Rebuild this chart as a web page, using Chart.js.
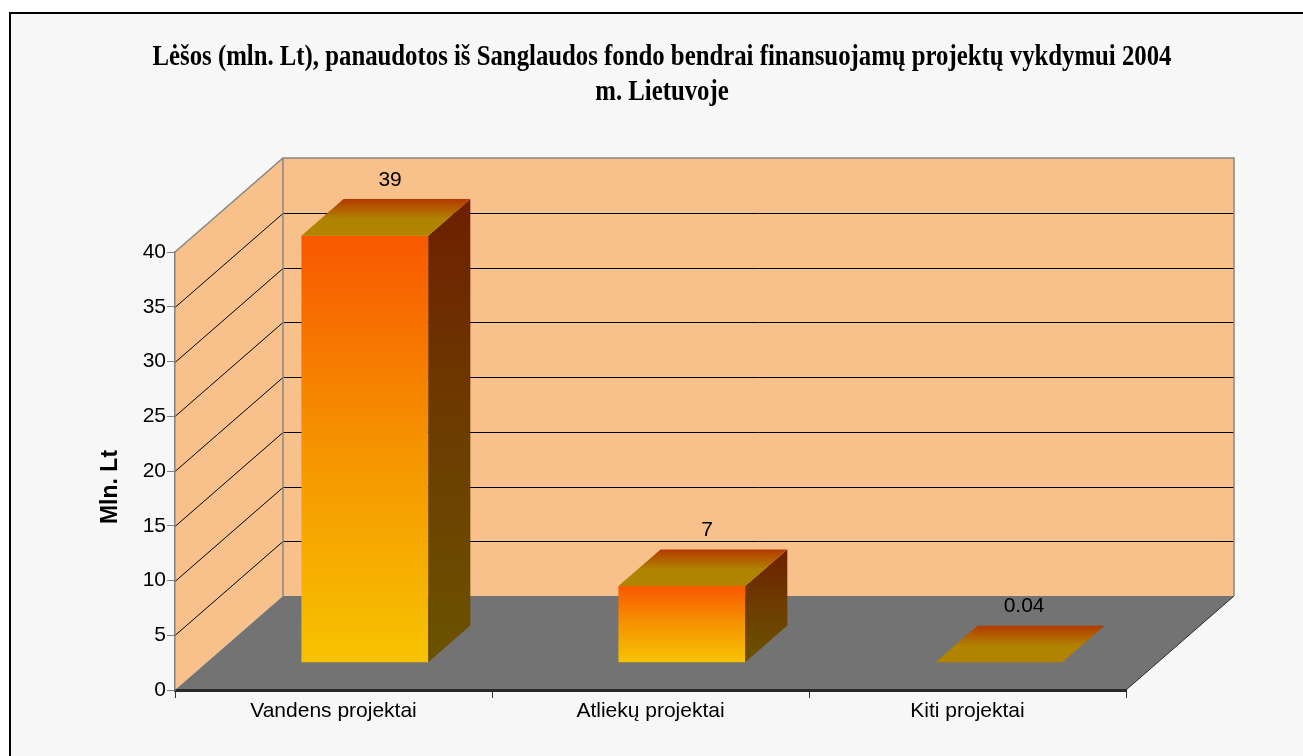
<!DOCTYPE html>
<html>
<head>
<meta charset="utf-8">
<title>Lėšos iš Sanglaudos fondo 2004</title>
<script src="https://cdn.jsdelivr.net/npm/chart.js@4.4.0/dist/chart.umd.min.js"></script>
<style>
    html, body { margin: 0; padding: 0; background: #ffffff; }
    #wrap { position: relative; width: 1303px; height: 756px; }
</style>
</head>
<body>
<div id="wrap"><canvas id="chart" width="1303" height="756"></canvas></div>
<script>
// --- data ---
const categories = ['Vandens projektai', 'Atliekų projektai', 'Kiti projektai'];
const values = [39, 7, 0.04];
const valueLabels = ['39', '7', '0.04'];
const yMin = 0;
const yMax = 40;
const yStep = 5;
const titleLines = [
    'Lėšos (mln. Lt), panaudotos iš Sanglaudos fondo bendrai finansuojamų projektų vykdymui 2004',
    'm. Lietuvoje'
];
const yAxisTitle = 'Mln. Lt';

// --- 3D look (style only) ---
const DEPTH_X = 108;       // how far the back wall sits right of the front plane
const DEPTH_Y = 94;        // and how far up
const BAR_FRONT = 0.29;    // bar front face, as share of the depth
const BAR_DEPTH = 0.39;    // bar thickness, as share of the depth
const WALL = '#f8c18b';
const WALL_EDGE = '#878787';
const FLOOR = '#737373';

const sansFont = '"Liberation Sans", Arial, sans-serif';
const serifFont = '"Liberation Serif", "Times New Roman", serif';

function poly(ctx, pts) {
    ctx.beginPath();
    ctx.moveTo(pts[0][0], pts[0][1]);
    for (let i = 1; i < pts.length; i++) ctx.lineTo(pts[i][0], pts[i][1]);
    ctx.closePath();
}

// background, frame, title, walls, floor and gridlines
const backdrop = {
    id: 'backdrop',
    beforeDraw(chart) {
        const ctx = chart.ctx;
        const { left, right, top, bottom } = chart.chartArea;
        const y = chart.scales.y;

        ctx.save();
        ctx.fillStyle = '#ffffff';
        ctx.fillRect(0, 0, chart.width, chart.height);
        ctx.fillStyle = '#f7f7f7';
        ctx.fillRect(10, 13, chart.width, chart.height);
        ctx.strokeStyle = '#000';
        ctx.lineWidth = 2;
        ctx.strokeRect(10, 13, chart.width + 20, chart.height + 20);

        // title, squeezed to look like the narrow Times of the original
        ctx.fillStyle = '#000';
        ctx.font = 'bold 30px ' + serifFont;
        ctx.textAlign = 'center';
        ctx.textBaseline = 'alphabetic';
        const squeeze = 1019 / ctx.measureText(titleLines[0]).width;
        const cx = 662;
        titleLines.forEach((line, i) => {
            ctx.save();
            ctx.translate(cx, 65 + i * 35);
            ctx.scale(squeeze, 1);
            ctx.fillText(line, 0, 0);
            ctx.restore();
        });

        // side wall
        ctx.fillStyle = WALL;
        poly(ctx, [[left, top], [left + DEPTH_X, top - DEPTH_Y], [left + DEPTH_X, bottom - DEPTH_Y], [left, bottom]]);
        ctx.fill();
        // back wall
        ctx.fillRect(left + DEPTH_X, top - DEPTH_Y, right - left, bottom - top);
        // floor
        ctx.fillStyle = FLOOR;
        poly(ctx, [[left, bottom], [right, bottom], [right + DEPTH_X, bottom - DEPTH_Y], [left + DEPTH_X, bottom - DEPTH_Y]]);
        ctx.fill();

        // gridlines on both walls
        ctx.lineWidth = 1;
        ctx.strokeStyle = '#000';
        y.ticks.forEach(t => {
            if (t.value <= yMin || t.value >= yMax) return;
            const py = Math.round(y.getPixelForValue(t.value)) + 0.5;
            ctx.beginPath();
            ctx.moveTo(left, py);
            ctx.lineTo(left + DEPTH_X, py - DEPTH_Y);
            ctx.lineTo(right + DEPTH_X, py - DEPTH_Y);
            ctx.stroke();
        });

        // wall outlines
        ctx.strokeStyle = WALL_EDGE;
        ctx.lineWidth = 1.5;
        ctx.beginPath();
        ctx.moveTo(left, top);
        ctx.lineTo(left + DEPTH_X, top - DEPTH_Y);
        ctx.lineTo(right + DEPTH_X, top - DEPTH_Y);
        ctx.lineTo(right + DEPTH_X, bottom - DEPTH_Y);
        ctx.moveTo(left + DEPTH_X, top - DEPTH_Y);
        ctx.lineTo(left + DEPTH_X, bottom - DEPTH_Y);
        ctx.stroke();

        ctx.strokeStyle = '#2a2a2a';
        ctx.lineWidth = 1;
        ctx.beginPath();
        ctx.moveTo(right, bottom);
        ctx.lineTo(right + DEPTH_X, bottom - DEPTH_Y);
        ctx.stroke();
        ctx.restore();
    },
    afterDraw(chart) {
        const ctx = chart.ctx;
        ctx.save();
        ctx.fillStyle = '#000';
        ctx.font = 'bold 23px ' + sansFont;
        ctx.textAlign = 'center';
        ctx.textBaseline = 'middle';
        ctx.translate(111, 487);
        ctx.rotate(-Math.PI / 2);
        ctx.fillText(yAxisTitle, 0, 0);
        ctx.restore();
    }
};

// the bars as boxes, placed from the bar elements Chart.js lays out
const boxes = {
    id: 'boxes',
    afterDatasetsDraw(chart) {
        const ctx = chart.ctx;
        const meta = chart.getDatasetMeta(0);
        const fx = DEPTH_X * BAR_FRONT, fy = DEPTH_Y * BAR_FRONT;
        const dx = DEPTH_X * BAR_DEPTH, dy = DEPTH_Y * BAR_DEPTH;

        ctx.save();
        meta.data.forEach((el, i) => {
            const p = el.getProps(['x', 'y', 'base', 'width'], true);
            const x0 = p.x - p.width / 2 + fx;
            const x1 = p.x + p.width / 2 + fx;
            const yT = p.y - fy;
            const yB = p.base - fy;

            // front
            if (yB - yT > 0.5) {
                const g = ctx.createLinearGradient(0, yT, 0, yB);
                g.addColorStop(0, '#f85800');
                g.addColorStop(0.5, '#f59400');
                g.addColorStop(1, '#f7c300');
                ctx.fillStyle = g;
                ctx.fillRect(x0, yT, x1 - x0, yB - yT);
            }
            // right side
            const gs = ctx.createLinearGradient(0, yT - dy, 0, yB);
            gs.addColorStop(0, '#6e1f00');
            gs.addColorStop(0.45, '#6d3a00');
            gs.addColorStop(1, '#6b5300');
            ctx.fillStyle = gs;
            poly(ctx, [[x1, yT], [x1 + dx, yT - dy], [x1 + dx, yB - dy], [x1, yB]]);
            ctx.fill();
            // top
            const gt = ctx.createLinearGradient(0, yT - dy, 0, yT);
            gt.addColorStop(0, '#b43a00');
            gt.addColorStop(0.55, '#b08300');
            gt.addColorStop(1, '#b08400');
            ctx.fillStyle = gt;
            poly(ctx, [[x0, yT], [x1, yT], [x1 + dx, yT - dy], [x0 + dx, yT - dy]]);
            ctx.fill();

            // value label
            ctx.fillStyle = '#000';
            ctx.font = '21px ' + sansFont;
            ctx.textAlign = 'center';
            ctx.textBaseline = 'alphabetic';
            ctx.fillText(valueLabels[i], (x0 + x1) / 2 + dx * 0.6, yT - 50);
        });
        ctx.restore();
    }
};

const ctx = document.getElementById('chart').getContext('2d');
new Chart(ctx, {
    type: 'bar',
    data: {
        labels: categories,
        datasets: [{
            label: yAxisTitle,
            data: values,
            backgroundColor: 'rgba(0,0,0,0)',
            borderWidth: 0,
            barPercentage: 0.4,
            categoryPercentage: 1.0
        }]
    },
    options: {
        responsive: false,
        animation: false,
        events: [],
        layout: { padding: { left: 97, right: 177, top: 252, bottom: 0 } },
        plugins: {
            legend: { display: false },
            title: { display: false },
            tooltip: { enabled: false }
        },
        scales: {
            x: {
                afterFit: s => { s.height = 66; },
                grid: {
                    offset: true,
                    drawOnChartArea: false,
                    drawTicks: true,
                    tickLength: 8,
                    color: '#333'
                },
                border: { display: true, color: '#2a2a2a', width: 3 },
                ticks: {
                    color: '#000',
                    padding: 1,
                    font: { family: sansFont, size: 21 },
                    maxRotation: 0
                }
            },
            y: {
                min: yMin,
                max: yMax,
                afterFit: s => { s.width = 175 - 97; },
                grid: {
                    drawOnChartArea: false,
                    drawTicks: true,
                    tickLength: 8,
                    color: '#808080'
                },
                border: { display: true, color: '#808080', width: 1.5 },
                ticks: {
                    stepSize: yStep,
                    color: '#000',
                    padding: 1,
                    font: { family: sansFont, size: 21 }
                }
            }
        }
    },
    plugins: [backdrop, boxes]
});
</script>
</body>
</html>
